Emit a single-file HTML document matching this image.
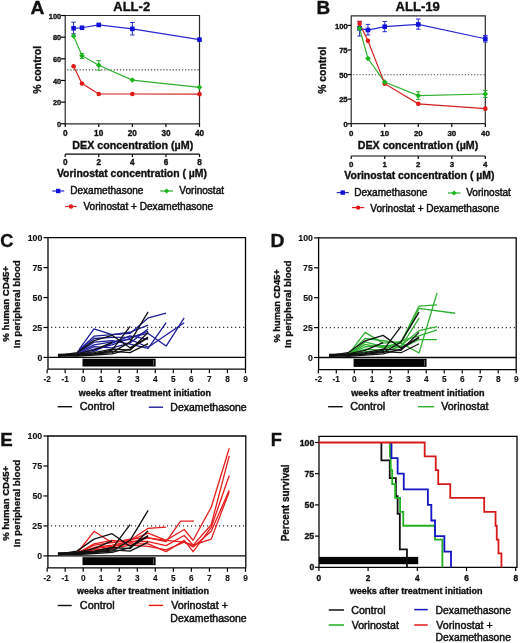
<!DOCTYPE html><html><head><meta charset="utf-8"><style>html,body{margin:0;padding:0;background:#fff;}svg{display:block;will-change:transform;}text{font-family:"Liberation Sans",sans-serif;}</style></head><body>
<svg width="520" height="643" viewBox="0 0 520 643">
<rect width="520" height="643" fill="#fff"/>
<line x1="67.20" y1="69.95" x2="199.50" y2="69.95" stroke="#444" stroke-width="1.2" stroke-dasharray="1.2 1.9"/>
<path d="M65.2,15.5 H199.5 V123.8 H65.2 Z" fill="none" stroke="#2a2a2a" stroke-width="1.2"/>
<line x1="61.00" y1="123.80" x2="65.20" y2="123.80" stroke="#050505" stroke-width="1.2"/>
<text x="57.07" y="126.90" font-size="8.0" font-weight="bold" fill="#111" textLength="4.14" lengthAdjust="spacingAndGlyphs" stroke="#111" stroke-width="0.35">0</text>
<line x1="61.00" y1="102.14" x2="65.20" y2="102.14" stroke="#050505" stroke-width="1.2"/>
<text x="52.94" y="105.24" font-size="8.0" font-weight="bold" fill="#111" textLength="8.28" lengthAdjust="spacingAndGlyphs" stroke="#111" stroke-width="0.35">20</text>
<line x1="61.00" y1="80.48" x2="65.20" y2="80.48" stroke="#050505" stroke-width="1.2"/>
<text x="52.94" y="83.58" font-size="8.0" font-weight="bold" fill="#111" textLength="8.28" lengthAdjust="spacingAndGlyphs" stroke="#111" stroke-width="0.35">40</text>
<line x1="61.00" y1="58.82" x2="65.20" y2="58.82" stroke="#050505" stroke-width="1.2"/>
<text x="52.94" y="61.92" font-size="8.0" font-weight="bold" fill="#111" textLength="8.28" lengthAdjust="spacingAndGlyphs" stroke="#111" stroke-width="0.35">60</text>
<line x1="61.00" y1="37.16" x2="65.20" y2="37.16" stroke="#050505" stroke-width="1.2"/>
<text x="52.94" y="40.26" font-size="8.0" font-weight="bold" fill="#111" textLength="8.28" lengthAdjust="spacingAndGlyphs" stroke="#111" stroke-width="0.35">80</text>
<line x1="61.00" y1="15.50" x2="65.20" y2="15.50" stroke="#050505" stroke-width="1.2"/>
<text x="48.81" y="18.60" font-size="8.0" font-weight="bold" fill="#111" textLength="12.41" lengthAdjust="spacingAndGlyphs" stroke="#111" stroke-width="0.35">100</text>
<line x1="65.20" y1="123.80" x2="65.20" y2="127.00" stroke="#050505" stroke-width="1.2"/>
<text x="62.92" y="136.40" font-size="8.2" font-weight="bold" fill="#111" textLength="4.56" lengthAdjust="spacingAndGlyphs" stroke="#111" stroke-width="0.35">0</text>
<line x1="98.77" y1="123.80" x2="98.77" y2="127.00" stroke="#050505" stroke-width="1.2"/>
<text x="94.14" y="136.40" font-size="8.2" font-weight="bold" fill="#111" textLength="9.12" lengthAdjust="spacingAndGlyphs" stroke="#111" stroke-width="0.35">10</text>
<line x1="132.34" y1="123.80" x2="132.34" y2="127.00" stroke="#050505" stroke-width="1.2"/>
<text x="127.81" y="136.40" font-size="8.2" font-weight="bold" fill="#111" textLength="9.12" lengthAdjust="spacingAndGlyphs" stroke="#111" stroke-width="0.35">20</text>
<line x1="165.91" y1="123.80" x2="165.91" y2="127.00" stroke="#050505" stroke-width="1.2"/>
<text x="161.42" y="136.40" font-size="8.2" font-weight="bold" fill="#111" textLength="9.12" lengthAdjust="spacingAndGlyphs" stroke="#111" stroke-width="0.35">30</text>
<line x1="199.48" y1="123.80" x2="199.48" y2="127.00" stroke="#050505" stroke-width="1.2"/>
<text x="195.03" y="136.40" font-size="8.2" font-weight="bold" fill="#111" textLength="9.12" lengthAdjust="spacingAndGlyphs" stroke="#111" stroke-width="0.35">40</text>
<text x="72.30" y="148.50" font-size="10.5" font-weight="bold" fill="#111" textLength="120.92" lengthAdjust="spacingAndGlyphs" stroke="#111" stroke-width="0.35">DEX concentration (µM)</text>
<line x1="65.20" y1="154.20" x2="199.50" y2="154.20" stroke="#050505" stroke-width="1.2"/>
<line x1="65.20" y1="154.20" x2="65.20" y2="157.00" stroke="#050505" stroke-width="1.2"/>
<text x="62.92" y="164.80" font-size="8.2" font-weight="bold" fill="#111" textLength="4.56" lengthAdjust="spacingAndGlyphs" stroke="#111" stroke-width="0.35">0</text>
<line x1="98.78" y1="154.20" x2="98.78" y2="157.00" stroke="#050505" stroke-width="1.2"/>
<text x="96.52" y="164.80" font-size="8.2" font-weight="bold" fill="#111" textLength="4.56" lengthAdjust="spacingAndGlyphs" stroke="#111" stroke-width="0.35">2</text>
<line x1="132.36" y1="154.20" x2="132.36" y2="157.00" stroke="#050505" stroke-width="1.2"/>
<text x="130.04" y="164.80" font-size="8.2" font-weight="bold" fill="#111" textLength="4.56" lengthAdjust="spacingAndGlyphs" stroke="#111" stroke-width="0.35">4</text>
<line x1="165.94" y1="154.20" x2="165.94" y2="157.00" stroke="#050505" stroke-width="1.2"/>
<text x="163.66" y="164.80" font-size="8.2" font-weight="bold" fill="#111" textLength="4.56" lengthAdjust="spacingAndGlyphs" stroke="#111" stroke-width="0.35">6</text>
<line x1="199.52" y1="154.20" x2="199.52" y2="157.00" stroke="#050505" stroke-width="1.2"/>
<text x="197.24" y="164.80" font-size="8.2" font-weight="bold" fill="#111" textLength="4.56" lengthAdjust="spacingAndGlyphs" stroke="#111" stroke-width="0.35">8</text>
<text x="56.95" y="176.50" font-size="10.4" font-weight="bold" fill="#111" textLength="150.04" lengthAdjust="spacingAndGlyphs" stroke="#111" stroke-width="0.35">Vorinostat concentration ( µM)</text>
<line x1="73.59" y1="22.20" x2="73.59" y2="33.80" stroke="#2a2ad0" stroke-width="1.0"/>
<line x1="71.34" y1="22.20" x2="75.84" y2="22.20" stroke="#2a2ad0" stroke-width="1.0"/>
<line x1="71.34" y1="33.80" x2="75.84" y2="33.80" stroke="#2a2ad0" stroke-width="1.0"/>
<line x1="132.34" y1="22.50" x2="132.34" y2="35.00" stroke="#2a2ad0" stroke-width="1.0"/>
<line x1="130.09" y1="22.50" x2="134.59" y2="22.50" stroke="#2a2ad0" stroke-width="1.0"/>
<line x1="130.09" y1="35.00" x2="134.59" y2="35.00" stroke="#2a2ad0" stroke-width="1.0"/>
<line x1="98.77" y1="60.60" x2="98.77" y2="70.20" stroke="#30b030" stroke-width="1.0"/>
<line x1="96.52" y1="60.60" x2="101.02" y2="60.60" stroke="#30b030" stroke-width="1.0"/>
<line x1="96.52" y1="70.20" x2="101.02" y2="70.20" stroke="#30b030" stroke-width="1.0"/>
<line x1="81.98" y1="53.50" x2="81.98" y2="58.50" stroke="#30b030" stroke-width="1.0"/>
<line x1="79.73" y1="53.50" x2="84.23" y2="53.50" stroke="#30b030" stroke-width="1.0"/>
<line x1="79.73" y1="58.50" x2="84.23" y2="58.50" stroke="#30b030" stroke-width="1.0"/>
<polyline points="73.59,28.28 81.98,27.74 98.77,24.92 132.34,28.93 199.48,39.65" fill="none" stroke="#2a2ad0" stroke-width="1.2" stroke-linejoin="miter" stroke-miterlimit="3"/>
<polyline points="73.59,35.97 81.98,55.68 98.77,65.21 132.34,80.05 199.48,87.30" fill="none" stroke="#30b030" stroke-width="1.2" stroke-linejoin="miter" stroke-miterlimit="3"/>
<polyline points="73.59,66.18 81.98,83.51 98.77,94.02 132.34,94.02 199.48,94.13" fill="none" stroke="#d42020" stroke-width="1.2" stroke-linejoin="miter" stroke-miterlimit="3"/>
<rect x="71.29" y="25.98" width="4.6" height="4.6" fill="#1010d8"/>
<rect x="79.69" y="25.44" width="4.6" height="4.6" fill="#1010d8"/>
<rect x="96.47" y="22.62" width="4.6" height="4.6" fill="#1010d8"/>
<rect x="130.04" y="26.63" width="4.6" height="4.6" fill="#1010d8"/>
<rect x="197.18" y="37.35" width="4.6" height="4.6" fill="#1010d8"/>
<polygon points="73.59,33.17 76.39,35.97 73.59,38.77 70.79,35.97" fill="#18b418"/>
<polygon points="81.98,52.88 84.78,55.68 81.98,58.48 79.19,55.68" fill="#18b418"/>
<polygon points="98.77,62.41 101.57,65.21 98.77,68.01 95.97,65.21" fill="#18b418"/>
<polygon points="132.34,77.25 135.14,80.05 132.34,82.85 129.54,80.05" fill="#18b418"/>
<polygon points="199.48,84.50 202.28,87.30 199.48,90.10 196.68,87.30" fill="#18b418"/>
<circle cx="73.59" cy="66.18" r="2.3" fill="#e01818"/>
<circle cx="81.98" cy="83.51" r="2.3" fill="#e01818"/>
<circle cx="98.77" cy="94.02" r="2.3" fill="#e01818"/>
<circle cx="132.34" cy="94.02" r="2.3" fill="#e01818"/>
<circle cx="199.48" cy="94.13" r="2.3" fill="#e01818"/>
<line x1="52.30" y1="191.00" x2="64.20" y2="191.00" stroke="#2a2ad0" stroke-width="1.2"/>
<rect x="56.00" y="188.80" width="4.4" height="4.4" fill="#1010d8"/>
<text x="70.19" y="194.30" font-size="10" font-weight="normal" fill="#111" textLength="73.28" lengthAdjust="spacingAndGlyphs" stroke="#111" stroke-width="0.45">Dexamethasone</text>
<line x1="160.20" y1="191.00" x2="173.00" y2="191.00" stroke="#30b030" stroke-width="1.2"/>
<polygon points="166.60,188.40 169.20,191.00 166.60,193.60 164.00,191.00" fill="#18b418"/>
<text x="179.35" y="194.30" font-size="10" font-weight="normal" fill="#111" textLength="44.72" lengthAdjust="spacingAndGlyphs" stroke="#111" stroke-width="0.45">Vorinostat</text>
<line x1="65.20" y1="206.50" x2="76.70" y2="206.50" stroke="#d42020" stroke-width="1.2"/>
<circle cx="71.00" cy="206.50" r="2.2" fill="#e01818"/>
<text x="83.45" y="209.80" font-size="10" font-weight="normal" fill="#111" textLength="129.70" lengthAdjust="spacingAndGlyphs" stroke="#111" stroke-width="0.45">Vorinostat + Dexamethasone</text>
<text x="113.27" y="11.00" font-size="12.7" font-weight="bold" fill="#111" textLength="36.89" lengthAdjust="spacingAndGlyphs" stroke="#111" stroke-width="0.35">ALL-2</text>
<text transform="translate(40.90,93.50) rotate(-90)" x="-0.26" y="0" font-size="10.3" font-weight="bold" fill="#111" stroke="#111" stroke-width="0.35" textLength="47.85" lengthAdjust="spacingAndGlyphs">% control</text>
<text x="30.62" y="14.10" font-size="18" font-weight="bold" fill="#111" textLength="13.90" lengthAdjust="spacingAndGlyphs" stroke="#111" stroke-width="0.35">A</text>
<line x1="353.20" y1="74.75" x2="485.30" y2="74.75" stroke="#444" stroke-width="1.2" stroke-dasharray="1.2 1.9"/>
<path d="M351.2,15.9 H485.3 V123.7 H351.2 Z" fill="none" stroke="#2a2a2a" stroke-width="1.2"/>
<line x1="347.50" y1="123.70" x2="351.20" y2="123.70" stroke="#050505" stroke-width="1.2"/>
<text x="343.49" y="126.90" font-size="7.6" font-weight="bold" fill="#111" textLength="4.23" lengthAdjust="spacingAndGlyphs" stroke="#111" stroke-width="0.35">0</text>
<line x1="347.50" y1="99.12" x2="351.20" y2="99.12" stroke="#050505" stroke-width="1.2"/>
<text x="339.15" y="102.33" font-size="7.6" font-weight="bold" fill="#111" textLength="8.45" lengthAdjust="spacingAndGlyphs" stroke="#111" stroke-width="0.35">25</text>
<line x1="347.50" y1="74.55" x2="351.20" y2="74.55" stroke="#050505" stroke-width="1.2"/>
<text x="339.27" y="77.75" font-size="7.6" font-weight="bold" fill="#111" textLength="8.45" lengthAdjust="spacingAndGlyphs" stroke="#111" stroke-width="0.35">50</text>
<line x1="347.50" y1="49.98" x2="351.20" y2="49.98" stroke="#050505" stroke-width="1.2"/>
<text x="339.15" y="53.18" font-size="7.6" font-weight="bold" fill="#111" textLength="8.45" lengthAdjust="spacingAndGlyphs" stroke="#111" stroke-width="0.35">75</text>
<line x1="347.50" y1="25.40" x2="351.20" y2="25.40" stroke="#050505" stroke-width="1.2"/>
<text x="335.05" y="28.60" font-size="7.6" font-weight="bold" fill="#111" textLength="12.68" lengthAdjust="spacingAndGlyphs" stroke="#111" stroke-width="0.35">100</text>
<line x1="351.20" y1="123.70" x2="351.20" y2="127.00" stroke="#050505" stroke-width="1.2"/>
<text x="349.01" y="136.10" font-size="7.9" font-weight="bold" fill="#111" textLength="4.39" lengthAdjust="spacingAndGlyphs" stroke="#111" stroke-width="0.35">0</text>
<line x1="384.73" y1="123.70" x2="384.73" y2="127.00" stroke="#050505" stroke-width="1.2"/>
<text x="380.27" y="136.10" font-size="7.9" font-weight="bold" fill="#111" textLength="8.79" lengthAdjust="spacingAndGlyphs" stroke="#111" stroke-width="0.35">10</text>
<line x1="418.26" y1="123.70" x2="418.26" y2="127.00" stroke="#050505" stroke-width="1.2"/>
<text x="413.90" y="136.10" font-size="7.9" font-weight="bold" fill="#111" textLength="8.79" lengthAdjust="spacingAndGlyphs" stroke="#111" stroke-width="0.35">20</text>
<line x1="451.79" y1="123.70" x2="451.79" y2="127.00" stroke="#050505" stroke-width="1.2"/>
<text x="447.46" y="136.10" font-size="7.9" font-weight="bold" fill="#111" textLength="8.79" lengthAdjust="spacingAndGlyphs" stroke="#111" stroke-width="0.35">30</text>
<line x1="485.32" y1="123.70" x2="485.32" y2="127.00" stroke="#050505" stroke-width="1.2"/>
<text x="481.03" y="136.10" font-size="7.9" font-weight="bold" fill="#111" textLength="8.79" lengthAdjust="spacingAndGlyphs" stroke="#111" stroke-width="0.35">40</text>
<text x="357.81" y="148.70" font-size="10.5" font-weight="bold" fill="#111" textLength="120.42" lengthAdjust="spacingAndGlyphs" stroke="#111" stroke-width="0.35">DEX concentration (µM)</text>
<line x1="351.20" y1="156.00" x2="485.30" y2="156.00" stroke="#050505" stroke-width="1.2"/>
<line x1="351.20" y1="156.00" x2="351.20" y2="159.00" stroke="#050505" stroke-width="1.2"/>
<text x="349.01" y="166.60" font-size="7.9" font-weight="bold" fill="#111" textLength="4.39" lengthAdjust="spacingAndGlyphs" stroke="#111" stroke-width="0.35">0</text>
<line x1="384.73" y1="156.00" x2="384.73" y2="159.00" stroke="#050505" stroke-width="1.2"/>
<text x="382.40" y="166.60" font-size="7.9" font-weight="bold" fill="#111" textLength="4.39" lengthAdjust="spacingAndGlyphs" stroke="#111" stroke-width="0.35">1</text>
<line x1="418.26" y1="156.00" x2="418.26" y2="159.00" stroke="#050505" stroke-width="1.2"/>
<text x="416.09" y="166.60" font-size="7.9" font-weight="bold" fill="#111" textLength="4.39" lengthAdjust="spacingAndGlyphs" stroke="#111" stroke-width="0.35">2</text>
<line x1="451.79" y1="156.00" x2="451.79" y2="159.00" stroke="#050505" stroke-width="1.2"/>
<text x="449.64" y="166.60" font-size="7.9" font-weight="bold" fill="#111" textLength="4.39" lengthAdjust="spacingAndGlyphs" stroke="#111" stroke-width="0.35">3</text>
<line x1="485.32" y1="156.00" x2="485.32" y2="159.00" stroke="#050505" stroke-width="1.2"/>
<text x="483.09" y="166.60" font-size="7.9" font-weight="bold" fill="#111" textLength="4.39" lengthAdjust="spacingAndGlyphs" stroke="#111" stroke-width="0.35">4</text>
<text x="344.35" y="179.00" font-size="10.4" font-weight="bold" fill="#111" textLength="150.14" lengthAdjust="spacingAndGlyphs" stroke="#111" stroke-width="0.35">Vorinostat concentration ( µM)</text>
<line x1="359.58" y1="21.50" x2="359.58" y2="36.00" stroke="#2a2ad0" stroke-width="1.0"/>
<line x1="357.33" y1="21.50" x2="361.83" y2="21.50" stroke="#2a2ad0" stroke-width="1.0"/>
<line x1="357.33" y1="36.00" x2="361.83" y2="36.00" stroke="#2a2ad0" stroke-width="1.0"/>
<line x1="367.96" y1="24.40" x2="367.96" y2="35.00" stroke="#2a2ad0" stroke-width="1.0"/>
<line x1="365.71" y1="24.40" x2="370.21" y2="24.40" stroke="#2a2ad0" stroke-width="1.0"/>
<line x1="365.71" y1="35.00" x2="370.21" y2="35.00" stroke="#2a2ad0" stroke-width="1.0"/>
<line x1="384.73" y1="21.50" x2="384.73" y2="31.70" stroke="#2a2ad0" stroke-width="1.0"/>
<line x1="382.48" y1="21.50" x2="386.98" y2="21.50" stroke="#2a2ad0" stroke-width="1.0"/>
<line x1="382.48" y1="31.70" x2="386.98" y2="31.70" stroke="#2a2ad0" stroke-width="1.0"/>
<line x1="418.26" y1="19.00" x2="418.26" y2="29.20" stroke="#2a2ad0" stroke-width="1.0"/>
<line x1="416.01" y1="19.00" x2="420.51" y2="19.00" stroke="#2a2ad0" stroke-width="1.0"/>
<line x1="416.01" y1="29.20" x2="420.51" y2="29.20" stroke="#2a2ad0" stroke-width="1.0"/>
<line x1="485.32" y1="35.50" x2="485.32" y2="42.00" stroke="#2a2ad0" stroke-width="1.0"/>
<line x1="483.07" y1="35.50" x2="487.57" y2="35.50" stroke="#2a2ad0" stroke-width="1.0"/>
<line x1="483.07" y1="42.00" x2="487.57" y2="42.00" stroke="#2a2ad0" stroke-width="1.0"/>
<line x1="418.26" y1="91.70" x2="418.26" y2="99.40" stroke="#30b030" stroke-width="1.0"/>
<line x1="416.01" y1="91.70" x2="420.51" y2="91.70" stroke="#30b030" stroke-width="1.0"/>
<line x1="416.01" y1="99.40" x2="420.51" y2="99.40" stroke="#30b030" stroke-width="1.0"/>
<line x1="485.32" y1="90.50" x2="485.32" y2="97.50" stroke="#30b030" stroke-width="1.0"/>
<line x1="483.07" y1="90.50" x2="487.57" y2="90.50" stroke="#30b030" stroke-width="1.0"/>
<line x1="483.07" y1="97.50" x2="487.57" y2="97.50" stroke="#30b030" stroke-width="1.0"/>
<line x1="359.58" y1="21.20" x2="359.58" y2="26.50" stroke="#d42020" stroke-width="1.0"/>
<line x1="357.33" y1="21.20" x2="361.83" y2="21.20" stroke="#d42020" stroke-width="1.0"/>
<line x1="357.33" y1="26.50" x2="361.83" y2="26.50" stroke="#d42020" stroke-width="1.0"/>
<polyline points="359.58,28.35 367.96,30.02 384.73,26.68 418.26,24.42 485.32,38.77" fill="none" stroke="#2a2ad0" stroke-width="1.2" stroke-linejoin="miter" stroke-miterlimit="3"/>
<polyline points="359.58,28.35 367.96,58.53 384.73,82.12 418.26,95.59 485.32,94.01" fill="none" stroke="#30b030" stroke-width="1.2" stroke-linejoin="miter" stroke-miterlimit="3"/>
<polyline points="359.58,23.83 367.96,40.83 384.73,83.69 418.26,103.84 485.32,108.66" fill="none" stroke="#d42020" stroke-width="1.2" stroke-linejoin="miter" stroke-miterlimit="3"/>
<rect x="357.28" y="26.05" width="4.6" height="4.6" fill="#1010d8"/>
<rect x="365.66" y="27.72" width="4.6" height="4.6" fill="#1010d8"/>
<rect x="382.43" y="24.38" width="4.6" height="4.6" fill="#1010d8"/>
<rect x="415.96" y="22.12" width="4.6" height="4.6" fill="#1010d8"/>
<rect x="483.02" y="36.47" width="4.6" height="4.6" fill="#1010d8"/>
<circle cx="359.58" cy="23.83" r="2.3" fill="#e01818"/>
<circle cx="367.96" cy="40.83" r="2.3" fill="#e01818"/>
<circle cx="384.73" cy="83.69" r="2.3" fill="#e01818"/>
<circle cx="418.26" cy="103.84" r="2.3" fill="#e01818"/>
<circle cx="485.32" cy="108.66" r="2.3" fill="#e01818"/>
<polygon points="359.58,25.55 362.38,28.35 359.58,31.15 356.78,28.35" fill="#18b418"/>
<polygon points="367.96,55.73 370.76,58.53 367.96,61.33 365.16,58.53" fill="#18b418"/>
<polygon points="384.73,79.32 387.53,82.12 384.73,84.92 381.93,82.12" fill="#18b418"/>
<polygon points="418.26,92.79 421.06,95.59 418.26,98.39 415.46,95.59" fill="#18b418"/>
<polygon points="485.32,91.21 488.12,94.01 485.32,96.81 482.52,94.01" fill="#18b418"/>
<line x1="336.70" y1="192.60" x2="348.80" y2="192.60" stroke="#2a2ad0" stroke-width="1.2"/>
<rect x="340.50" y="190.40" width="4.4" height="4.4" fill="#1010d8"/>
<text x="354.19" y="196.40" font-size="10" font-weight="normal" fill="#111" textLength="73.28" lengthAdjust="spacingAndGlyphs" stroke="#111" stroke-width="0.45">Dexamethasone</text>
<line x1="447.90" y1="193.00" x2="460.40" y2="193.00" stroke="#30b030" stroke-width="1.2"/>
<polygon points="454.10,190.40 456.70,193.00 454.10,195.60 451.50,193.00" fill="#18b418"/>
<text x="466.15" y="196.40" font-size="10" font-weight="normal" fill="#111" textLength="44.72" lengthAdjust="spacingAndGlyphs" stroke="#111" stroke-width="0.45">Vorinostat</text>
<line x1="352.00" y1="207.60" x2="364.20" y2="207.60" stroke="#d42020" stroke-width="1.2"/>
<circle cx="358.10" cy="207.60" r="2.2" fill="#e01818"/>
<text x="370.35" y="211.80" font-size="10" font-weight="normal" fill="#111" textLength="128.90" lengthAdjust="spacingAndGlyphs" stroke="#111" stroke-width="0.45">Vorinostat + Dexamethasone</text>
<text x="395.47" y="11.30" font-size="12.8" font-weight="bold" fill="#111" textLength="44.38" lengthAdjust="spacingAndGlyphs" stroke="#111" stroke-width="0.35">ALL-19</text>
<text transform="translate(326.20,93.50) rotate(-90)" x="-0.26" y="0" font-size="10.3" font-weight="bold" fill="#111" stroke="#111" stroke-width="0.35" textLength="47.14" lengthAdjust="spacingAndGlyphs">% control</text>
<text x="316.47" y="14.20" font-size="18" font-weight="bold" fill="#111" textLength="13.62" lengthAdjust="spacingAndGlyphs" stroke="#111" stroke-width="0.35">B</text>
<line x1="51.20" y1="327.47" x2="245.50" y2="327.47" stroke="#111" stroke-width="1.2" stroke-dasharray="1.0 3.0"/>
<polyline points="79.23,349.38 94.02,328.91 112.05,334.66 130.08,333.46 148.11,317.90 166.14,313.11" fill="none" stroke="#1e1e9a" stroke-width="1.3" stroke-linejoin="round" stroke-miterlimit="3"/>
<polyline points="77.79,351.41 94.02,336.21 112.05,334.66 130.08,332.26 148.11,325.08" fill="none" stroke="#1e1e9a" stroke-width="1.3" stroke-linejoin="round" stroke-miterlimit="3"/>
<polyline points="77.79,351.41 94.02,338.49 112.05,337.41 130.08,337.05 148.11,333.46 166.14,346.03 184.17,317.90" fill="none" stroke="#1e1e9a" stroke-width="1.3" stroke-linejoin="round" stroke-miterlimit="3"/>
<polyline points="77.79,352.61 94.02,342.20 112.05,340.64 130.08,344.23 148.11,348.42 166.14,322.69" fill="none" stroke="#1e1e9a" stroke-width="1.3" stroke-linejoin="round" stroke-miterlimit="3"/>
<polyline points="77.79,352.61 94.02,344.95 112.05,341.96 130.08,339.44 148.11,347.23 184.17,322.69" fill="none" stroke="#1e1e9a" stroke-width="1.3" stroke-linejoin="round" stroke-miterlimit="3"/>
<polyline points="77.79,353.81 94.02,349.02 112.05,344.95 130.08,338.25 148.11,331.07" fill="none" stroke="#1e1e9a" stroke-width="1.3" stroke-linejoin="round" stroke-miterlimit="3"/>
<polyline points="77.79,353.81 94.02,346.63 112.05,347.82 130.08,343.04 148.11,328.67" fill="none" stroke="#1e1e9a" stroke-width="1.3" stroke-linejoin="round" stroke-miterlimit="3"/>
<polyline points="77.79,355.01 94.02,351.41 112.05,343.04 130.08,335.85 148.11,339.44" fill="none" stroke="#1e1e9a" stroke-width="1.3" stroke-linejoin="round" stroke-miterlimit="3"/>
<polyline points="57.96,355.60 76.89,352.61 94.02,340.64 112.05,335.26 130.08,347.82 148.11,337.05" fill="none" stroke="#111" stroke-width="1.3" stroke-linejoin="round" stroke-miterlimit="3"/>
<polyline points="57.96,356.20 76.89,355.01 94.02,353.81 112.05,350.22 130.08,326.28" fill="none" stroke="#111" stroke-width="1.3" stroke-linejoin="round" stroke-miterlimit="3"/>
<polyline points="57.96,355.01 76.89,354.41 94.02,353.81 112.05,352.61 130.08,341.84 148.11,311.91" fill="none" stroke="#111" stroke-width="1.3" stroke-linejoin="round" stroke-miterlimit="3"/>
<polyline points="57.96,354.41 76.89,353.81 94.02,352.61 112.05,349.02 130.08,350.22 148.11,332.26" fill="none" stroke="#111" stroke-width="1.3" stroke-linejoin="round" stroke-miterlimit="3"/>
<polyline points="57.96,356.20 76.89,355.60 94.02,353.81 112.05,351.41 130.08,352.61 148.11,343.63" fill="none" stroke="#111" stroke-width="1.3" stroke-linejoin="round" stroke-miterlimit="3"/>
<polyline points="57.96,355.60 76.89,353.81 94.02,350.22 112.05,342.44" fill="none" stroke="#111" stroke-width="1.3" stroke-linejoin="round" stroke-miterlimit="3"/>
<polyline points="57.96,355.01 76.89,356.20 94.02,355.01 112.05,353.81 130.08,349.02 148.11,337.65" fill="none" stroke="#111" stroke-width="1.3" stroke-linejoin="round" stroke-miterlimit="3"/>
<line x1="48.00" y1="357.40" x2="245.50" y2="357.40" stroke="#050505" stroke-width="1.3"/>
<rect x="82.50" y="358.70" width="73.12" height="7.80" fill="#050505"/>
<line x1="153.52" y1="360.00" x2="153.52" y2="365.60" stroke="#888" stroke-width="0.7"/>
<path d="M48.0,237.7 H245.5 V369.2 H48.0 Z" fill="none" stroke="#050505" stroke-width="1.3"/>
<line x1="43.50" y1="357.40" x2="48.00" y2="357.40" stroke="#050505" stroke-width="1.2"/>
<text x="37.47" y="360.50" font-size="8.8" font-weight="bold" fill="#111" textLength="4.89" lengthAdjust="spacingAndGlyphs" stroke="#111" stroke-width="0.12">0</text>
<line x1="43.50" y1="327.47" x2="48.00" y2="327.47" stroke="#050505" stroke-width="1.2"/>
<text x="32.45" y="330.57" font-size="8.8" font-weight="bold" fill="#111" textLength="9.79" lengthAdjust="spacingAndGlyphs" stroke="#111" stroke-width="0.12">25</text>
<line x1="43.50" y1="297.55" x2="48.00" y2="297.55" stroke="#050505" stroke-width="1.2"/>
<text x="32.58" y="300.65" font-size="8.8" font-weight="bold" fill="#111" textLength="9.79" lengthAdjust="spacingAndGlyphs" stroke="#111" stroke-width="0.12">50</text>
<line x1="43.50" y1="267.62" x2="48.00" y2="267.62" stroke="#050505" stroke-width="1.2"/>
<text x="32.45" y="270.73" font-size="8.8" font-weight="bold" fill="#111" textLength="9.79" lengthAdjust="spacingAndGlyphs" stroke="#111" stroke-width="0.12">75</text>
<line x1="43.50" y1="237.70" x2="48.00" y2="237.70" stroke="#050505" stroke-width="1.2"/>
<text x="27.70" y="240.80" font-size="8.8" font-weight="bold" fill="#111" textLength="14.68" lengthAdjust="spacingAndGlyphs" stroke="#111" stroke-width="0.12">100</text>
<line x1="47.14" y1="369.20" x2="47.14" y2="373.20" stroke="#050505" stroke-width="1.2"/>
<text x="43.45" y="382.20" font-size="8.3" font-weight="bold" fill="#111" textLength="7.38" lengthAdjust="spacingAndGlyphs" stroke="#111" stroke-width="0.12">-2</text>
<line x1="65.17" y1="369.20" x2="65.17" y2="373.20" stroke="#050505" stroke-width="1.2"/>
<text x="61.41" y="382.20" font-size="8.3" font-weight="bold" fill="#111" textLength="7.38" lengthAdjust="spacingAndGlyphs" stroke="#111" stroke-width="0.12">-1</text>
<line x1="83.20" y1="369.20" x2="83.20" y2="373.20" stroke="#050505" stroke-width="1.2"/>
<text x="80.90" y="382.20" font-size="8.3" font-weight="bold" fill="#111" textLength="4.62" lengthAdjust="spacingAndGlyphs" stroke="#111" stroke-width="0.12">0</text>
<line x1="101.23" y1="369.20" x2="101.23" y2="373.20" stroke="#050505" stroke-width="1.2"/>
<text x="98.78" y="382.20" font-size="8.3" font-weight="bold" fill="#111" textLength="4.62" lengthAdjust="spacingAndGlyphs" stroke="#111" stroke-width="0.12">1</text>
<line x1="119.26" y1="369.20" x2="119.26" y2="373.20" stroke="#050505" stroke-width="1.2"/>
<text x="116.98" y="382.20" font-size="8.3" font-weight="bold" fill="#111" textLength="4.62" lengthAdjust="spacingAndGlyphs" stroke="#111" stroke-width="0.12">2</text>
<line x1="137.29" y1="369.20" x2="137.29" y2="373.20" stroke="#050505" stroke-width="1.2"/>
<text x="135.03" y="382.20" font-size="8.3" font-weight="bold" fill="#111" textLength="4.62" lengthAdjust="spacingAndGlyphs" stroke="#111" stroke-width="0.12">3</text>
<line x1="155.32" y1="369.20" x2="155.32" y2="373.20" stroke="#050505" stroke-width="1.2"/>
<text x="152.98" y="382.20" font-size="8.3" font-weight="bold" fill="#111" textLength="4.62" lengthAdjust="spacingAndGlyphs" stroke="#111" stroke-width="0.12">4</text>
<line x1="173.35" y1="369.20" x2="173.35" y2="373.20" stroke="#050505" stroke-width="1.2"/>
<text x="171.03" y="382.20" font-size="8.3" font-weight="bold" fill="#111" textLength="4.62" lengthAdjust="spacingAndGlyphs" stroke="#111" stroke-width="0.12">5</text>
<line x1="191.38" y1="369.20" x2="191.38" y2="373.20" stroke="#050505" stroke-width="1.2"/>
<text x="189.08" y="382.20" font-size="8.3" font-weight="bold" fill="#111" textLength="4.62" lengthAdjust="spacingAndGlyphs" stroke="#111" stroke-width="0.12">6</text>
<line x1="209.41" y1="369.20" x2="209.41" y2="373.20" stroke="#050505" stroke-width="1.2"/>
<text x="207.11" y="382.20" font-size="8.3" font-weight="bold" fill="#111" textLength="4.62" lengthAdjust="spacingAndGlyphs" stroke="#111" stroke-width="0.12">7</text>
<line x1="227.44" y1="369.20" x2="227.44" y2="373.20" stroke="#050505" stroke-width="1.2"/>
<text x="225.14" y="382.20" font-size="8.3" font-weight="bold" fill="#111" textLength="4.62" lengthAdjust="spacingAndGlyphs" stroke="#111" stroke-width="0.12">8</text>
<line x1="245.47" y1="369.20" x2="245.47" y2="373.20" stroke="#050505" stroke-width="1.2"/>
<text x="243.17" y="382.20" font-size="8.3" font-weight="bold" fill="#111" textLength="4.62" lengthAdjust="spacingAndGlyphs" stroke="#111" stroke-width="0.12">9</text>
<text x="78.79" y="395.90" font-size="8.9" font-weight="bold" fill="#111" textLength="132.16" lengthAdjust="spacingAndGlyphs" stroke="#111" stroke-width="0.35">weeks after treatment initiation</text>
<text transform="translate(8.60,341.40) rotate(-90)" x="-0.24" y="0" font-size="9.4" font-weight="bold" fill="#111" stroke="#111" stroke-width="0.35" textLength="75.61" lengthAdjust="spacingAndGlyphs">% human CD45+</text>
<text transform="translate(19.90,347.60) rotate(-90)" x="-0.64" y="0" font-size="9.5" font-weight="bold" fill="#111" stroke="#111" stroke-width="0.35" textLength="88.08" lengthAdjust="spacingAndGlyphs">In peripheral blood</text>
<text x="0.37" y="247.30" font-size="18" font-weight="bold" fill="#111" textLength="13.12" lengthAdjust="spacingAndGlyphs" stroke="#111" stroke-width="0.35">C</text>
<line x1="57.70" y1="406.70" x2="72.10" y2="406.70" stroke="#111" stroke-width="1.4"/>
<text x="79.66" y="410.10" font-size="10" font-weight="normal" fill="#111" textLength="35.09" lengthAdjust="spacingAndGlyphs" stroke="#111" stroke-width="0.45">Control</text>
<line x1="148.80" y1="407.20" x2="163.10" y2="407.20" stroke="#1e1e9a" stroke-width="1.4"/>
<text x="170.36" y="410.70" font-size="10" font-weight="normal" fill="#111" textLength="76.34" lengthAdjust="spacingAndGlyphs" stroke="#111" stroke-width="0.45">Dexamethasone</text>
<line x1="321.80" y1="327.60" x2="516.20" y2="327.60" stroke="#111" stroke-width="1.2" stroke-dasharray="1.0 3.0"/>
<polyline points="348.00,355.11 365.09,332.38 383.08,343.15 401.07,341.95 419.06,306.07 437.05,304.88" fill="none" stroke="#30b030" stroke-width="1.3" stroke-linejoin="round" stroke-miterlimit="3"/>
<polyline points="348.00,354.51 365.09,338.36 383.08,340.76 401.07,343.15 419.06,308.46 455.04,313.25" fill="none" stroke="#30b030" stroke-width="1.3" stroke-linejoin="round" stroke-miterlimit="3"/>
<polyline points="348.00,355.11 365.09,341.95 383.08,346.74 401.07,343.15 419.06,352.96 437.05,292.92" fill="none" stroke="#30b030" stroke-width="1.3" stroke-linejoin="round" stroke-miterlimit="3"/>
<polyline points="348.00,355.11 365.09,344.34 383.08,347.93 401.07,345.54 419.06,330.71 437.05,326.64" fill="none" stroke="#30b030" stroke-width="1.3" stroke-linejoin="round" stroke-miterlimit="3"/>
<polyline points="348.00,355.11 365.09,346.74 383.08,345.54 401.07,347.93 419.06,339.56 437.05,339.56" fill="none" stroke="#30b030" stroke-width="1.3" stroke-linejoin="round" stroke-miterlimit="3"/>
<polyline points="348.00,355.11 365.09,349.13 383.08,350.32 401.07,340.76 419.06,335.97 437.05,329.99" fill="none" stroke="#30b030" stroke-width="1.3" stroke-linejoin="round" stroke-miterlimit="3"/>
<polyline points="348.00,355.11 365.09,351.52 383.08,351.52 401.07,346.74 419.06,318.03" fill="none" stroke="#30b030" stroke-width="1.3" stroke-linejoin="round" stroke-miterlimit="3"/>
<polyline points="329.11,355.71 348.00,352.72 365.09,340.76 383.08,335.37 401.07,347.93 419.06,337.17" fill="none" stroke="#111" stroke-width="1.3" stroke-linejoin="round" stroke-miterlimit="3"/>
<polyline points="329.11,356.30 348.00,355.11 365.09,353.91 383.08,350.32 401.07,326.40" fill="none" stroke="#111" stroke-width="1.3" stroke-linejoin="round" stroke-miterlimit="3"/>
<polyline points="329.11,355.11 348.00,354.51 365.09,353.91 383.08,352.72 401.07,341.95 419.06,312.05" fill="none" stroke="#111" stroke-width="1.3" stroke-linejoin="round" stroke-miterlimit="3"/>
<polyline points="329.11,354.51 348.00,353.91 365.09,352.72 383.08,349.13 401.07,350.32 419.06,332.38" fill="none" stroke="#111" stroke-width="1.3" stroke-linejoin="round" stroke-miterlimit="3"/>
<polyline points="329.11,356.30 348.00,355.71 365.09,353.91 383.08,351.52 401.07,352.72 419.06,343.75" fill="none" stroke="#111" stroke-width="1.3" stroke-linejoin="round" stroke-miterlimit="3"/>
<polyline points="329.11,355.71 348.00,353.91 365.09,350.32 383.08,342.55" fill="none" stroke="#111" stroke-width="1.3" stroke-linejoin="round" stroke-miterlimit="3"/>
<polyline points="329.11,355.11 348.00,356.30 365.09,355.11 383.08,353.91 401.07,349.13 419.06,337.77" fill="none" stroke="#111" stroke-width="1.3" stroke-linejoin="round" stroke-miterlimit="3"/>
<line x1="318.60" y1="357.50" x2="516.20" y2="357.50" stroke="#050505" stroke-width="1.3"/>
<rect x="353.60" y="358.80" width="72.96" height="8.10" fill="#050505"/>
<line x1="424.46" y1="360.10" x2="424.46" y2="366.00" stroke="#888" stroke-width="0.7"/>
<path d="M318.6,237.9 H516.2 V369.6 H318.6 Z" fill="none" stroke="#050505" stroke-width="1.3"/>
<line x1="314.10" y1="357.50" x2="318.60" y2="357.50" stroke="#050505" stroke-width="1.2"/>
<text x="308.07" y="360.60" font-size="8.8" font-weight="bold" fill="#111" textLength="4.89" lengthAdjust="spacingAndGlyphs" stroke="#111" stroke-width="0.12">0</text>
<line x1="314.10" y1="327.60" x2="318.60" y2="327.60" stroke="#050505" stroke-width="1.2"/>
<text x="303.05" y="330.70" font-size="8.8" font-weight="bold" fill="#111" textLength="9.79" lengthAdjust="spacingAndGlyphs" stroke="#111" stroke-width="0.12">25</text>
<line x1="314.10" y1="297.70" x2="318.60" y2="297.70" stroke="#050505" stroke-width="1.2"/>
<text x="303.18" y="300.80" font-size="8.8" font-weight="bold" fill="#111" textLength="9.79" lengthAdjust="spacingAndGlyphs" stroke="#111" stroke-width="0.12">50</text>
<line x1="314.10" y1="267.80" x2="318.60" y2="267.80" stroke="#050505" stroke-width="1.2"/>
<text x="303.05" y="270.90" font-size="8.8" font-weight="bold" fill="#111" textLength="9.79" lengthAdjust="spacingAndGlyphs" stroke="#111" stroke-width="0.12">75</text>
<line x1="314.10" y1="237.90" x2="318.60" y2="237.90" stroke="#050505" stroke-width="1.2"/>
<text x="298.30" y="241.00" font-size="8.8" font-weight="bold" fill="#111" textLength="14.68" lengthAdjust="spacingAndGlyphs" stroke="#111" stroke-width="0.12">100</text>
<line x1="318.32" y1="369.60" x2="318.32" y2="373.60" stroke="#050505" stroke-width="1.2"/>
<text x="314.63" y="382.20" font-size="8.3" font-weight="bold" fill="#111" textLength="7.38" lengthAdjust="spacingAndGlyphs" stroke="#111" stroke-width="0.12">-2</text>
<line x1="336.31" y1="369.60" x2="336.31" y2="373.60" stroke="#050505" stroke-width="1.2"/>
<text x="332.55" y="382.20" font-size="8.3" font-weight="bold" fill="#111" textLength="7.38" lengthAdjust="spacingAndGlyphs" stroke="#111" stroke-width="0.12">-1</text>
<line x1="354.30" y1="369.60" x2="354.30" y2="373.60" stroke="#050505" stroke-width="1.2"/>
<text x="352.00" y="382.20" font-size="8.3" font-weight="bold" fill="#111" textLength="4.62" lengthAdjust="spacingAndGlyphs" stroke="#111" stroke-width="0.12">0</text>
<line x1="372.29" y1="369.60" x2="372.29" y2="373.60" stroke="#050505" stroke-width="1.2"/>
<text x="369.84" y="382.20" font-size="8.3" font-weight="bold" fill="#111" textLength="4.62" lengthAdjust="spacingAndGlyphs" stroke="#111" stroke-width="0.12">1</text>
<line x1="390.28" y1="369.60" x2="390.28" y2="373.60" stroke="#050505" stroke-width="1.2"/>
<text x="388.00" y="382.20" font-size="8.3" font-weight="bold" fill="#111" textLength="4.62" lengthAdjust="spacingAndGlyphs" stroke="#111" stroke-width="0.12">2</text>
<line x1="408.27" y1="369.60" x2="408.27" y2="373.60" stroke="#050505" stroke-width="1.2"/>
<text x="406.01" y="382.20" font-size="8.3" font-weight="bold" fill="#111" textLength="4.62" lengthAdjust="spacingAndGlyphs" stroke="#111" stroke-width="0.12">3</text>
<line x1="426.26" y1="369.60" x2="426.26" y2="373.60" stroke="#050505" stroke-width="1.2"/>
<text x="423.92" y="382.20" font-size="8.3" font-weight="bold" fill="#111" textLength="4.62" lengthAdjust="spacingAndGlyphs" stroke="#111" stroke-width="0.12">4</text>
<line x1="444.25" y1="369.60" x2="444.25" y2="373.60" stroke="#050505" stroke-width="1.2"/>
<text x="441.93" y="382.20" font-size="8.3" font-weight="bold" fill="#111" textLength="4.62" lengthAdjust="spacingAndGlyphs" stroke="#111" stroke-width="0.12">5</text>
<line x1="462.24" y1="369.60" x2="462.24" y2="373.60" stroke="#050505" stroke-width="1.2"/>
<text x="459.94" y="382.20" font-size="8.3" font-weight="bold" fill="#111" textLength="4.62" lengthAdjust="spacingAndGlyphs" stroke="#111" stroke-width="0.12">6</text>
<line x1="480.23" y1="369.60" x2="480.23" y2="373.60" stroke="#050505" stroke-width="1.2"/>
<text x="477.93" y="382.20" font-size="8.3" font-weight="bold" fill="#111" textLength="4.62" lengthAdjust="spacingAndGlyphs" stroke="#111" stroke-width="0.12">7</text>
<line x1="498.22" y1="369.60" x2="498.22" y2="373.60" stroke="#050505" stroke-width="1.2"/>
<text x="495.92" y="382.20" font-size="8.3" font-weight="bold" fill="#111" textLength="4.62" lengthAdjust="spacingAndGlyphs" stroke="#111" stroke-width="0.12">8</text>
<line x1="516.21" y1="369.60" x2="516.21" y2="373.60" stroke="#050505" stroke-width="1.2"/>
<text x="513.91" y="382.20" font-size="8.3" font-weight="bold" fill="#111" textLength="4.62" lengthAdjust="spacingAndGlyphs" stroke="#111" stroke-width="0.12">9</text>
<text x="351.30" y="395.90" font-size="8.9" font-weight="bold" fill="#111" textLength="133.26" lengthAdjust="spacingAndGlyphs" stroke="#111" stroke-width="0.35">weeks after treatment initiation</text>
<text transform="translate(279.60,342.30) rotate(-90)" x="-0.23" y="0" font-size="9.4" font-weight="bold" fill="#111" stroke="#111" stroke-width="0.35" textLength="73.19" lengthAdjust="spacingAndGlyphs">% human CD45+</text>
<text transform="translate(290.60,347.45) rotate(-90)" x="-0.63" y="0" font-size="9.5" font-weight="bold" fill="#111" stroke="#111" stroke-width="0.35" textLength="87.57" lengthAdjust="spacingAndGlyphs">In peripheral blood</text>
<text x="270.64" y="247.30" font-size="18" font-weight="bold" fill="#111" textLength="13.97" lengthAdjust="spacingAndGlyphs" stroke="#111" stroke-width="0.35">D</text>
<line x1="328.10" y1="406.70" x2="342.70" y2="406.70" stroke="#111" stroke-width="1.4"/>
<text x="350.26" y="409.90" font-size="10" font-weight="normal" fill="#111" textLength="34.89" lengthAdjust="spacingAndGlyphs" stroke="#111" stroke-width="0.45">Control</text>
<line x1="418.00" y1="406.70" x2="434.20" y2="406.70" stroke="#30b030" stroke-width="1.4"/>
<text x="441.15" y="409.90" font-size="10" font-weight="normal" fill="#111" textLength="47.43" lengthAdjust="spacingAndGlyphs" stroke="#111" stroke-width="0.45">Vorinostat</text>
<line x1="51.10" y1="525.92" x2="245.80" y2="525.92" stroke="#111" stroke-width="1.2" stroke-dasharray="1.0 3.0"/>
<polyline points="76.89,553.50 94.02,545.11 112.05,542.71 130.08,539.11 148.11,537.91 166.14,540.31 184.17,529.52 193.18,540.31 211.21,507.22 229.24,448.23" fill="none" stroke="#e81c1c" stroke-width="1.3" stroke-linejoin="round" stroke-miterlimit="3"/>
<polyline points="76.89,553.50 94.02,547.51 112.05,545.11 130.08,541.51 148.11,541.51 166.14,545.59 184.17,535.52 193.18,545.11 211.21,524.73 229.24,455.90" fill="none" stroke="#e81c1c" stroke-width="1.3" stroke-linejoin="round" stroke-miterlimit="3"/>
<polyline points="76.89,553.50 94.02,548.71 112.05,546.31 130.08,543.91 148.11,543.91 166.14,551.70 184.17,540.31 193.18,551.70 211.21,527.48 229.24,475.57" fill="none" stroke="#e81c1c" stroke-width="1.3" stroke-linejoin="round" stroke-miterlimit="3"/>
<polyline points="76.89,553.50 94.02,549.90 112.05,548.71 130.08,545.11 148.11,546.31 166.14,549.90 184.17,542.11 193.18,546.91 211.21,531.32 229.24,490.19" fill="none" stroke="#e81c1c" stroke-width="1.3" stroke-linejoin="round" stroke-miterlimit="3"/>
<polyline points="76.89,553.50 94.02,551.10 112.05,547.51 130.08,540.31 148.11,533.12 166.14,540.31 184.17,542.11 193.18,545.11 211.21,539.11 229.24,491.75" fill="none" stroke="#e81c1c" stroke-width="1.3" stroke-linejoin="round" stroke-miterlimit="3"/>
<polyline points="76.89,553.50 94.02,531.32 112.05,542.71 130.08,540.31 148.11,528.32 166.14,527.12" fill="none" stroke="#e81c1c" stroke-width="1.3" stroke-linejoin="round" stroke-miterlimit="3"/>
<polyline points="76.89,553.50 94.02,543.91 112.05,540.31 130.08,542.71 148.11,537.91 166.14,541.51 180.56,521.13 194.08,521.13" fill="none" stroke="#e81c1c" stroke-width="1.3" stroke-linejoin="round" stroke-miterlimit="3"/>
<polyline points="57.96,554.10 76.89,551.10 94.02,539.11 112.05,533.72 130.08,546.31 148.11,535.52" fill="none" stroke="#111" stroke-width="1.3" stroke-linejoin="round" stroke-miterlimit="3"/>
<polyline points="57.96,554.70 76.89,553.50 94.02,552.30 112.05,548.71 130.08,524.73" fill="none" stroke="#111" stroke-width="1.3" stroke-linejoin="round" stroke-miterlimit="3"/>
<polyline points="57.96,553.50 76.89,552.90 94.02,552.30 112.05,551.10 130.08,540.31 148.11,510.34" fill="none" stroke="#111" stroke-width="1.3" stroke-linejoin="round" stroke-miterlimit="3"/>
<polyline points="57.96,552.90 76.89,552.30 94.02,551.10 112.05,547.51 130.08,548.71 148.11,530.72" fill="none" stroke="#111" stroke-width="1.3" stroke-linejoin="round" stroke-miterlimit="3"/>
<polyline points="57.96,554.70 76.89,554.10 94.02,552.30 112.05,549.90 130.08,551.10 148.11,542.11" fill="none" stroke="#111" stroke-width="1.3" stroke-linejoin="round" stroke-miterlimit="3"/>
<polyline points="57.96,554.10 76.89,552.30 94.02,548.71 112.05,540.91" fill="none" stroke="#111" stroke-width="1.3" stroke-linejoin="round" stroke-miterlimit="3"/>
<polyline points="57.96,553.50 76.89,554.70 94.02,553.50 112.05,552.30 130.08,547.51 148.11,536.12" fill="none" stroke="#111" stroke-width="1.3" stroke-linejoin="round" stroke-miterlimit="3"/>
<line x1="47.90" y1="555.90" x2="245.80" y2="555.90" stroke="#050505" stroke-width="1.3"/>
<rect x="82.50" y="557.20" width="73.12" height="7.90" fill="#050505"/>
<line x1="153.52" y1="558.50" x2="153.52" y2="564.20" stroke="#888" stroke-width="0.7"/>
<path d="M47.9,436.0 H245.8 V567.8 H47.9 Z" fill="none" stroke="#050505" stroke-width="1.3"/>
<line x1="43.40" y1="555.90" x2="47.90" y2="555.90" stroke="#050505" stroke-width="1.2"/>
<text x="37.37" y="559.00" font-size="8.8" font-weight="bold" fill="#111" textLength="4.89" lengthAdjust="spacingAndGlyphs" stroke="#111" stroke-width="0.12">0</text>
<line x1="43.40" y1="525.92" x2="47.90" y2="525.92" stroke="#050505" stroke-width="1.2"/>
<text x="32.35" y="529.02" font-size="8.8" font-weight="bold" fill="#111" textLength="9.79" lengthAdjust="spacingAndGlyphs" stroke="#111" stroke-width="0.12">25</text>
<line x1="43.40" y1="495.95" x2="47.90" y2="495.95" stroke="#050505" stroke-width="1.2"/>
<text x="32.48" y="499.05" font-size="8.8" font-weight="bold" fill="#111" textLength="9.79" lengthAdjust="spacingAndGlyphs" stroke="#111" stroke-width="0.12">50</text>
<line x1="43.40" y1="465.97" x2="47.90" y2="465.97" stroke="#050505" stroke-width="1.2"/>
<text x="32.35" y="469.07" font-size="8.8" font-weight="bold" fill="#111" textLength="9.79" lengthAdjust="spacingAndGlyphs" stroke="#111" stroke-width="0.12">75</text>
<line x1="43.40" y1="436.00" x2="47.90" y2="436.00" stroke="#050505" stroke-width="1.2"/>
<text x="27.60" y="439.10" font-size="8.8" font-weight="bold" fill="#111" textLength="14.68" lengthAdjust="spacingAndGlyphs" stroke="#111" stroke-width="0.12">100</text>
<line x1="47.14" y1="567.80" x2="47.14" y2="571.80" stroke="#050505" stroke-width="1.2"/>
<text x="43.45" y="581.00" font-size="8.3" font-weight="bold" fill="#111" textLength="7.38" lengthAdjust="spacingAndGlyphs" stroke="#111" stroke-width="0.12">-2</text>
<line x1="65.17" y1="567.80" x2="65.17" y2="571.80" stroke="#050505" stroke-width="1.2"/>
<text x="61.41" y="581.00" font-size="8.3" font-weight="bold" fill="#111" textLength="7.38" lengthAdjust="spacingAndGlyphs" stroke="#111" stroke-width="0.12">-1</text>
<line x1="83.20" y1="567.80" x2="83.20" y2="571.80" stroke="#050505" stroke-width="1.2"/>
<text x="80.90" y="581.00" font-size="8.3" font-weight="bold" fill="#111" textLength="4.62" lengthAdjust="spacingAndGlyphs" stroke="#111" stroke-width="0.12">0</text>
<line x1="101.23" y1="567.80" x2="101.23" y2="571.80" stroke="#050505" stroke-width="1.2"/>
<text x="98.78" y="581.00" font-size="8.3" font-weight="bold" fill="#111" textLength="4.62" lengthAdjust="spacingAndGlyphs" stroke="#111" stroke-width="0.12">1</text>
<line x1="119.26" y1="567.80" x2="119.26" y2="571.80" stroke="#050505" stroke-width="1.2"/>
<text x="116.98" y="581.00" font-size="8.3" font-weight="bold" fill="#111" textLength="4.62" lengthAdjust="spacingAndGlyphs" stroke="#111" stroke-width="0.12">2</text>
<line x1="137.29" y1="567.80" x2="137.29" y2="571.80" stroke="#050505" stroke-width="1.2"/>
<text x="135.03" y="581.00" font-size="8.3" font-weight="bold" fill="#111" textLength="4.62" lengthAdjust="spacingAndGlyphs" stroke="#111" stroke-width="0.12">3</text>
<line x1="155.32" y1="567.80" x2="155.32" y2="571.80" stroke="#050505" stroke-width="1.2"/>
<text x="152.98" y="581.00" font-size="8.3" font-weight="bold" fill="#111" textLength="4.62" lengthAdjust="spacingAndGlyphs" stroke="#111" stroke-width="0.12">4</text>
<line x1="173.35" y1="567.80" x2="173.35" y2="571.80" stroke="#050505" stroke-width="1.2"/>
<text x="171.03" y="581.00" font-size="8.3" font-weight="bold" fill="#111" textLength="4.62" lengthAdjust="spacingAndGlyphs" stroke="#111" stroke-width="0.12">5</text>
<line x1="191.38" y1="567.80" x2="191.38" y2="571.80" stroke="#050505" stroke-width="1.2"/>
<text x="189.08" y="581.00" font-size="8.3" font-weight="bold" fill="#111" textLength="4.62" lengthAdjust="spacingAndGlyphs" stroke="#111" stroke-width="0.12">6</text>
<line x1="209.41" y1="567.80" x2="209.41" y2="571.80" stroke="#050505" stroke-width="1.2"/>
<text x="207.11" y="581.00" font-size="8.3" font-weight="bold" fill="#111" textLength="4.62" lengthAdjust="spacingAndGlyphs" stroke="#111" stroke-width="0.12">7</text>
<line x1="227.44" y1="567.80" x2="227.44" y2="571.80" stroke="#050505" stroke-width="1.2"/>
<text x="225.14" y="581.00" font-size="8.3" font-weight="bold" fill="#111" textLength="4.62" lengthAdjust="spacingAndGlyphs" stroke="#111" stroke-width="0.12">8</text>
<line x1="245.47" y1="567.80" x2="245.47" y2="571.80" stroke="#050505" stroke-width="1.2"/>
<text x="243.17" y="581.00" font-size="8.3" font-weight="bold" fill="#111" textLength="4.62" lengthAdjust="spacingAndGlyphs" stroke="#111" stroke-width="0.12">9</text>
<text x="77.04" y="593.70" font-size="8.9" font-weight="bold" fill="#111" textLength="132.01" lengthAdjust="spacingAndGlyphs" stroke="#111" stroke-width="0.35">weeks after treatment initiation</text>
<text transform="translate(8.60,540.60) rotate(-90)" x="-0.24" y="0" font-size="9.4" font-weight="bold" fill="#111" stroke="#111" stroke-width="0.35" textLength="75.00" lengthAdjust="spacingAndGlyphs">% human CD45+</text>
<text transform="translate(20.20,546.65) rotate(-90)" x="-0.63" y="0" font-size="9.5" font-weight="bold" fill="#111" stroke="#111" stroke-width="0.35" textLength="87.57" lengthAdjust="spacingAndGlyphs">In peripheral blood</text>
<text x="0.18" y="445.50" font-size="18" font-weight="bold" fill="#111" textLength="12.51" lengthAdjust="spacingAndGlyphs" stroke="#111" stroke-width="0.35">E</text>
<line x1="57.70" y1="605.50" x2="71.70" y2="605.50" stroke="#111" stroke-width="1.4"/>
<text x="79.86" y="609.40" font-size="10" font-weight="normal" fill="#111" textLength="34.89" lengthAdjust="spacingAndGlyphs" stroke="#111" stroke-width="0.45">Control</text>
<line x1="148.80" y1="605.40" x2="163.10" y2="605.40" stroke="#e81c1c" stroke-width="1.4"/>
<text x="171.15" y="609.30" font-size="10" font-weight="normal" fill="#111" textLength="56.88" lengthAdjust="spacingAndGlyphs" stroke="#111" stroke-width="0.45">Vorinostat +</text>
<text x="170.36" y="621.60" font-size="10" font-weight="normal" fill="#111" textLength="76.34" lengthAdjust="spacingAndGlyphs" stroke="#111" stroke-width="0.45">Dexamethasone</text>
<path d="M319,436.4 H517 V567.3 H319 Z" fill="none" stroke="#050505" stroke-width="1.3"/>
<rect x="319" y="556.9" width="99.2" height="7.3" fill="#050505"/>
<polyline points="381.38,442.50 381.38,442.50 381.38,460.35 389.75,460.35 389.75,478.19 395.90,478.19 395.90,496.04 397.62,496.04 397.62,513.76 399.83,513.76 399.83,549.45 406.97,549.45 406.97,567.30" fill="none" stroke="#111" stroke-width="1.8" stroke-linejoin="miter" stroke-miterlimit="3"/>
<polyline points="389.99,442.50 389.99,442.50 389.99,456.35 390.73,456.35 390.73,470.21 392.21,470.21 392.21,484.06 395.16,484.06 395.16,497.91 400.08,497.91 400.08,511.89 403.28,511.89 403.28,525.74 435.01,525.74 435.01,539.59 442.39,539.59 442.39,567.30" fill="none" stroke="#20b020" stroke-width="1.8" stroke-linejoin="miter" stroke-miterlimit="3"/>
<polyline points="391.47,442.50 391.47,442.50 391.47,458.10 397.62,458.10 397.62,473.70 403.77,473.70 403.77,489.30 427.88,489.30 427.88,504.90 431.32,504.90 431.32,520.50 435.01,520.50 435.01,536.10 444.36,536.10 444.36,551.70 451.00,551.70 451.00,567.30" fill="none" stroke="#1515c8" stroke-width="1.8" stroke-linejoin="miter" stroke-miterlimit="3"/>
<polyline points="318.90,442.50 424.68,442.50 424.68,456.35 435.75,456.35 435.75,470.21 438.21,470.21 438.21,484.06 450.26,484.06 450.26,497.91 484.21,497.91 484.21,511.89 495.53,511.89 495.53,525.74 496.76,525.74 496.76,539.59 498.48,539.59 498.48,553.45 501.43,553.45 501.43,567.30" fill="none" stroke="#d81818" stroke-width="1.8" stroke-linejoin="miter" stroke-miterlimit="3"/>
<line x1="315.00" y1="567.30" x2="319.00" y2="567.30" stroke="#050505" stroke-width="1.2"/>
<text x="309.47" y="570.40" font-size="8.8" font-weight="bold" fill="#111" textLength="4.89" lengthAdjust="spacingAndGlyphs" stroke="#111" stroke-width="0.35">0</text>
<line x1="315.00" y1="536.10" x2="319.00" y2="536.10" stroke="#050505" stroke-width="1.2"/>
<text x="304.45" y="539.20" font-size="8.8" font-weight="bold" fill="#111" textLength="9.79" lengthAdjust="spacingAndGlyphs" stroke="#111" stroke-width="0.35">25</text>
<line x1="315.00" y1="504.90" x2="319.00" y2="504.90" stroke="#050505" stroke-width="1.2"/>
<text x="304.58" y="508.00" font-size="8.8" font-weight="bold" fill="#111" textLength="9.79" lengthAdjust="spacingAndGlyphs" stroke="#111" stroke-width="0.35">50</text>
<line x1="315.00" y1="473.70" x2="319.00" y2="473.70" stroke="#050505" stroke-width="1.2"/>
<text x="304.45" y="476.80" font-size="8.8" font-weight="bold" fill="#111" textLength="9.79" lengthAdjust="spacingAndGlyphs" stroke="#111" stroke-width="0.35">75</text>
<line x1="315.00" y1="442.50" x2="319.00" y2="442.50" stroke="#050505" stroke-width="1.2"/>
<text x="299.70" y="445.60" font-size="8.8" font-weight="bold" fill="#111" textLength="14.68" lengthAdjust="spacingAndGlyphs" stroke="#111" stroke-width="0.35">100</text>
<line x1="318.90" y1="567.30" x2="318.90" y2="571.00" stroke="#050505" stroke-width="1.2"/>
<text x="316.60" y="581.00" font-size="8.3" font-weight="bold" fill="#111" textLength="4.62" lengthAdjust="spacingAndGlyphs" stroke="#111" stroke-width="0.35">0</text>
<line x1="368.10" y1="567.30" x2="368.10" y2="571.00" stroke="#050505" stroke-width="1.2"/>
<text x="365.82" y="581.00" font-size="8.3" font-weight="bold" fill="#111" textLength="4.62" lengthAdjust="spacingAndGlyphs" stroke="#111" stroke-width="0.35">2</text>
<line x1="417.30" y1="567.30" x2="417.30" y2="571.00" stroke="#050505" stroke-width="1.2"/>
<text x="414.96" y="581.00" font-size="8.3" font-weight="bold" fill="#111" textLength="4.62" lengthAdjust="spacingAndGlyphs" stroke="#111" stroke-width="0.35">4</text>
<line x1="466.50" y1="567.30" x2="466.50" y2="571.00" stroke="#050505" stroke-width="1.2"/>
<text x="464.20" y="581.00" font-size="8.3" font-weight="bold" fill="#111" textLength="4.62" lengthAdjust="spacingAndGlyphs" stroke="#111" stroke-width="0.35">6</text>
<line x1="515.70" y1="567.30" x2="515.70" y2="571.00" stroke="#050505" stroke-width="1.2"/>
<text x="513.40" y="581.00" font-size="8.3" font-weight="bold" fill="#111" textLength="4.62" lengthAdjust="spacingAndGlyphs" stroke="#111" stroke-width="0.35">8</text>
<text x="349.75" y="594.30" font-size="8.9" font-weight="bold" fill="#111" textLength="132.71" lengthAdjust="spacingAndGlyphs" stroke="#111" stroke-width="0.35">weeks after treatment initiation</text>
<text transform="translate(288.80,540.70) rotate(-90)" x="-0.65" y="0" font-size="10.4" font-weight="bold" fill="#111" stroke="#111" stroke-width="0.35" textLength="76.81" lengthAdjust="spacingAndGlyphs">Percent survival</text>
<text x="270.71" y="445.50" font-size="18" font-weight="bold" fill="#111" textLength="11.14" lengthAdjust="spacingAndGlyphs" stroke="#111" stroke-width="0.35">F</text>
<line x1="328.70" y1="610.00" x2="344.00" y2="610.00" stroke="#111" stroke-width="1.5"/>
<text x="351.16" y="614.00" font-size="10.3" font-weight="normal" fill="#111" textLength="34.57" lengthAdjust="spacingAndGlyphs" stroke="#111" stroke-width="0.45">Control</text>
<line x1="414.20" y1="609.60" x2="427.70" y2="609.60" stroke="#1515c8" stroke-width="1.5"/>
<text x="435.47" y="614.00" font-size="10.3" font-weight="normal" fill="#111" textLength="75.42" lengthAdjust="spacingAndGlyphs" stroke="#111" stroke-width="0.45">Dexamethasone</text>
<line x1="328.70" y1="625.00" x2="344.00" y2="625.00" stroke="#20b020" stroke-width="1.5"/>
<text x="351.65" y="628.80" font-size="10.3" font-weight="normal" fill="#111" textLength="47.23" lengthAdjust="spacingAndGlyphs" stroke="#111" stroke-width="0.45">Vorinostat</text>
<line x1="414.20" y1="625.00" x2="427.70" y2="625.00" stroke="#e01818" stroke-width="1.5"/>
<text x="436.25" y="628.80" font-size="10.3" font-weight="normal" fill="#111" textLength="56.48" lengthAdjust="spacingAndGlyphs" stroke="#111" stroke-width="0.45">Vorinostat +</text>
<text x="435.47" y="640.80" font-size="10.3" font-weight="normal" fill="#111" textLength="75.42" lengthAdjust="spacingAndGlyphs" stroke="#111" stroke-width="0.45">Dexamethasone</text>
</svg></body></html>
